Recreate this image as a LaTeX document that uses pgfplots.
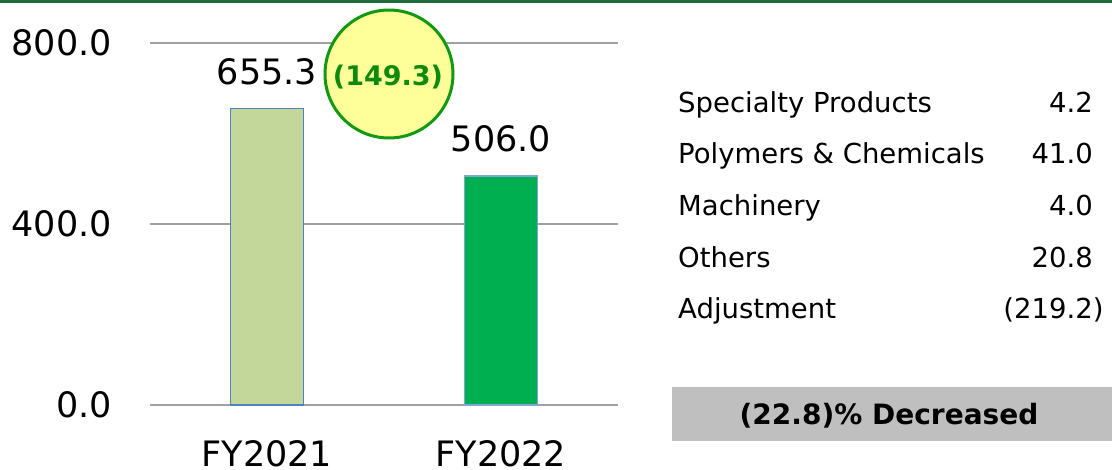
\documentclass[border=0pt]{standalone}
\usepackage{pgfplots}
\pgfplotsset{compat=1.18}
\usepackage{fontspec}
\setmainfont{DejaVu Sans}
\definecolor{topgreen}{HTML}{1F6B3A}
\definecolor{gridc}{HTML}{A0A0A0}
\definecolor{barA}{HTML}{C4D79B}
\definecolor{barAb}{HTML}{4F81BD}
\definecolor{barB}{HTML}{00B050}
\definecolor{barBb}{HTML}{7FA7D6}
\definecolor{circfill}{HTML}{FFFF99}
\definecolor{circline}{HTML}{119911}
\definecolor{circtext}{HTML}{0E8A0E}
\definecolor{boxgray}{HTML}{BFBFBF}
\newcommand\bigfont{\fontsize{35}{42}\selectfont}
\newcommand\tabfont{\fontsize{27.5}{33}\selectfont}
\begin{document}
\begin{tikzpicture}[x=1pt,y=1pt]
\path[use as bounding box] (0,0) rectangle (1112,-469);
\fill[topgreen] (0,0) rectangle (1112,-3);
\begin{axis}[
  at={(150pt,-405pt)}, anchor=south west,
  scale only axis, width=468pt, height=362pt,
  xmin=-0.5, xmax=1.5, ymin=0, ymax=800,
  axis line style={draw=none},
  tick style={draw=none},
  major tick length=0pt,
  ytick={0,400,800}, yticklabels={0.0,400.0,800.0},
  xtick={0,1}, xticklabels={FY2021,FY2022},
  ymajorgrids, major grid style={gridc, line width=1.5pt},
  yticklabel style={font=\bigfont, inner sep=0pt, anchor=east, xshift=-38pt},
  xticklabel style={font=\bigfont, inner sep=0pt, anchor=north, yshift=-35pt},
  clip=false,
  /pgf/number format/.cd, fixed, fixed zerofill, precision=1, assume math mode=true,
]
\addplot[ybar, bar width=73pt, bar shift=0pt, fill=barA, draw=barAb, line width=1.3pt,
  nodes near coords, every node near coord/.append style={font=\bigfont, text=black, inner sep=0pt, anchor=south, yshift=23pt}]
  coordinates {(0,655.3)};
\addplot[ybar, bar width=73pt, bar shift=0pt, fill=barB, draw=barBb, line width=1.3pt,
  nodes near coords, every node near coord/.append style={font=\bigfont, text=black, inner sep=0pt, anchor=south, yshift=23pt}]
  coordinates {(1,506.0)};
\end{axis}
\draw[circline, line width=3pt, fill=circfill] (389,-74) circle (64);
\node[text=circtext, font=\fontsize{27}{32}\selectfont\bfseries, inner sep=0pt] at (388,-77) {(149.3)};
% table
\foreach \lab/\val/\yy in {Specialty Products/4.2/112.7, Polymers \& Chemicals/41.0/163.5, Machinery/4.0/215.5, Others/20.8/267}{
  \node[anchor=base west, inner sep=0pt, font=\tabfont] at (678,-\yy) {\lab};
  \node[anchor=base east, inner sep=0pt, font=\tabfont] at (1093,-\yy) {\val};
}
\node[anchor=base west, inner sep=0pt, font=\tabfont] at (678,-318) {Adjustment};
\node[anchor=base east, inner sep=0pt, font=\tabfont] at (1093,-318) {(219.2\rlap{)}};
\fill[boxgray] (672,-387) rectangle (1112,-441);
\node[anchor=base, inner sep=0pt, font=\fontsize{28}{34}\selectfont\bfseries] at (889,-424) {(22.8)\% Decreased};
\end{tikzpicture}
\end{document}
